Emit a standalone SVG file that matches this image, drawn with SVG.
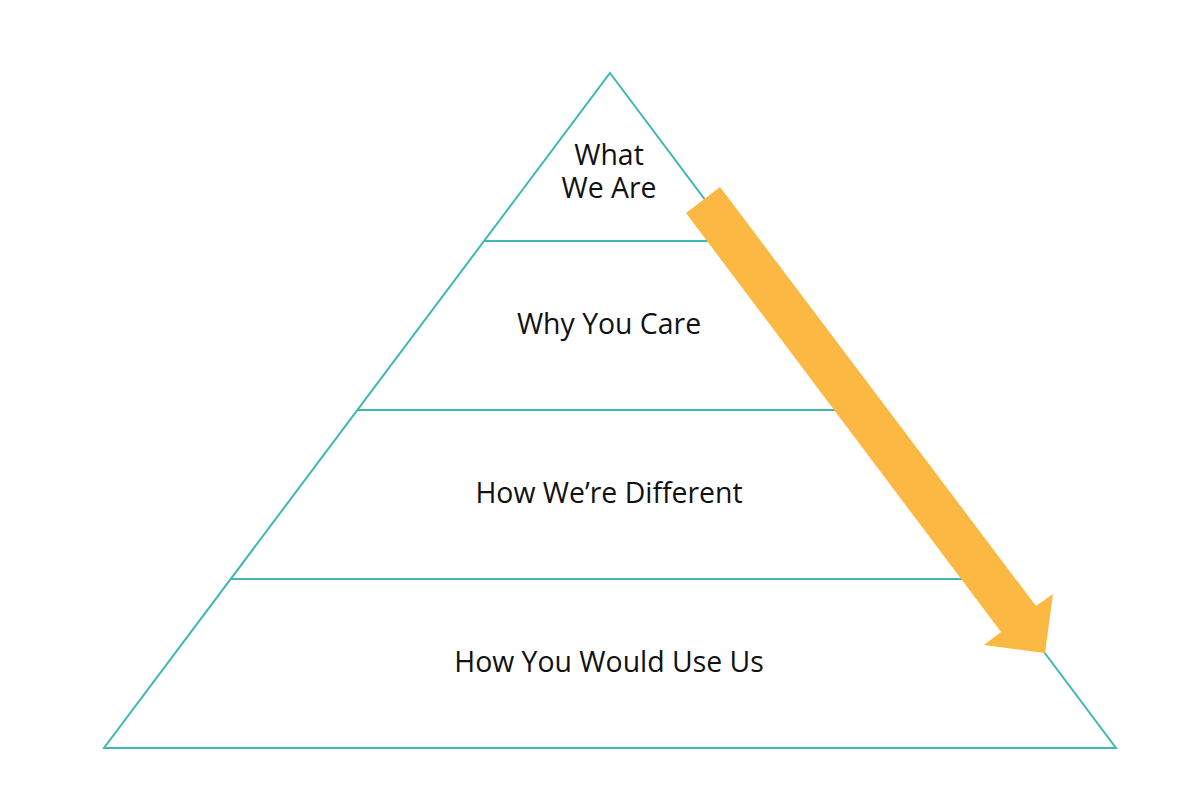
<svg xmlns="http://www.w3.org/2000/svg" width="1200" height="794" viewBox="0 0 1200 794">
<style>
.ln{stroke:#3fb8b4;stroke-width:2;fill:none}
.t{font-family:"Open Sans","Noto Sans",sans-serif;font-size:28.4px;fill:#111;text-anchor:middle}
</style>
<rect width="1200" height="794" fill="#fff"/>
<g id="pyramid">
<polygon class="ln" points="610,73 1116,748 104,748"/>
<line class="ln" x1="484" y1="241" x2="736" y2="241"/>
<line class="ln" x1="357" y1="410" x2="863" y2="410"/>
<line class="ln" x1="231" y1="579" x2="989" y2="579"/>
</g>
<g id="level1"><text class="t" x="609" y="165">What</text><text class="t" x="609" y="198">We Are</text></g>
<g id="level2"><text class="t" x="609" y="334">Why You Care</text></g>
<g id="level3"><text class="t" x="609" y="503">How We’re Different</text></g>
<g id="level4"><text class="t" x="609" y="672">How You Would Use Us</text></g>
<g id="connectors">
<polygon fill="#fbb843" points="720,187 1036,606 1053,594 1045,653 984,645 1001,632 686,213"/>
</g>
</svg>
